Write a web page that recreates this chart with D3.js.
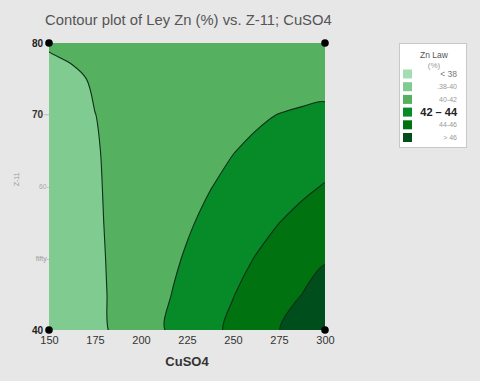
<!DOCTYPE html>
<meta charset="utf-8">
<style>
body { margin: 0; background: #e7e7e7; }
svg { font-family: "Liberation Sans", Arial, sans-serif; }
</style>
<svg width="480" height="381"></svg>
<script src="https://d3js.org/d3.v7.min.js"></script>
<script>
// grid: CuSO4 across, Z-11 down the rows
var cuso4 = [150, 162.5, 175, 187.5, 200, 212.5, 225, 237.5, 250, 262.5, 275, 287.5, 300];
var z11 = [40, 45, 50, 55, 60, 65, 70, 75, 80];
var zn = [
  [38.7, 39.1, 39.54, 40.34, 41.15, 41.97, 42.76, 43.56, 44.36, 45.16, 45.97, 46.77, 47.57],
  [38.7, 39.1, 39.63, 40.34, 41.06, 41.77, 42.49, 43.22, 43.94, 44.63, 45.32, 46.0, 46.68],
  [38.8, 39.15, 39.72, 40.33, 40.93, 41.54, 42.15, 42.79, 43.44, 44.07, 44.7, 45.3, 45.85],
  [38.9, 39.25, 39.81, 40.31, 40.81, 41.31, 41.82, 42.35, 42.89, 43.43, 43.98, 44.5, 45.0],
  [39.0, 39.35, 39.87, 40.28, 40.7, 41.12, 41.53, 41.95, 42.38, 42.81, 43.24, 43.67, 44.1],
  [39.15, 39.45, 39.92, 40.26, 40.6, 40.93, 41.27, 41.61, 41.95, 42.28, 42.6, 42.9, 43.15],
  [39.3, 39.6, 39.99, 40.24, 40.5, 40.75, 41.01, 41.27, 41.53, 41.78, 42.03, 42.25, 42.45],
  [39.55, 39.8, 40.12, 40.3, 40.46, 40.6, 40.73, 40.85, 40.95, 41.03, 41.1, 41.15, 41.2],
  [40.15, 40.3, 40.45, 40.55, 40.62, 40.68, 40.72, 40.75, 40.77, 40.78, 40.78, 40.78, 40.78]
];
var levels = [0, 38, 40, 42, 44, 46];
var levelNames = ["< 38", ".38-40", "40-42", "42  \u2013  44", "44-46", "> 46"];
var colors = ["#a3ddb2", "#80cb8f", "#55b05f", "#078a28", "#00720f", "#004e1b"];
var xTicks = [150, 175, 200, 225, 250, 275, 300];

var svg = d3.select("svg");
var plotL = 49, plotR = 325, plotT = 43, plotB = 330;

var x = d3.scaleLinear().domain([150, 300]).range([plotL, plotR]);
var y = d3.scaleLinear().domain([40, 80]).range([plotB, plotT]);

var nx = cuso4.length, ny = z11.length;
var dxStep = cuso4[1] - cuso4[0], dyStep = z11[1] - z11[0];
var values = [];
zn.forEach(function(row) { row.forEach(function(v) { values.push(v); }); });

var contours = d3.contours().size([nx, ny]).thresholds(levels)(values);

// grid coords -> pixels (d3.contours puts sample i at i + 0.5)
function px(p) {
  return [x(cuso4[0] + (p[0] - 0.5) * dxStep), y(z11[0] + (p[1] - 0.5) * dyStep)];
}
var ringLine = d3.line().curve(d3.curveCatmullRomClosed.alpha(0.5));
function smoothPath(mp) {
  var s = "";
  mp.coordinates.forEach(function(poly) {
    poly.forEach(function(ring) {
      var pts = ring.slice(0, ring.length - 1).map(px);
      s += ringLine(pts);
    });
  });
  return s;
}

svg.append("clipPath").attr("id", "plotclip")
  .append("rect").attr("x", plotL).attr("y", plotT)
  .attr("width", plotR - plotL).attr("height", plotB - plotT);

var g = svg.append("g").attr("clip-path", "url(#plotclip)");
g.selectAll("path.fill")
    .data(contours)
  .enter().append("path")
    .attr("class", "fill")
    .attr("d", smoothPath)
    .attr("fill", function(d, i) { return colors[i]; })
    .attr("fill-rule", "evenodd");
g.selectAll("path.line")
    .data(contours.slice(1))
  .enter().append("path")
    .attr("class", "line")
    .attr("d", smoothPath)
    .attr("fill", "none")
    .attr("stroke", "#10301a")
    .attr("stroke-width", 1.1);

// title
svg.append("text")
    .attr("x", 45).attr("y", 25)
    .style("font-size", "14.8px")
    .attr("fill", "#555")
    .text("Contour plot of Ley Zn (%) vs. Z-11; CuSO4");

// x axis
var xAxis = svg.append("g")
    .attr("transform", "translate(0," + plotB + ")")
    .call(d3.axisBottom(x).tickValues(xTicks).tickSize(0).tickPadding(6));
xAxis.select(".domain").remove();
xAxis.selectAll("text").style("font-size", "11px").attr("fill", "#333");

svg.append("text")
    .attr("x", (plotL + plotR) / 2).attr("y", 366)
    .attr("text-anchor", "middle")
    .style("font-size", "13px")
    .style("font-weight", "bold")
    .attr("fill", "#333")
    .text("CuSO4");

// y axis: the picture shows odd labels at 60 and 50
var yLabels = [
  {v: 80, t: "80", c: "#222", s: 10, b: "bold"},
  {v: 70, t: "70", c: "#333", s: 10, b: "bold"},
  {v: 60, t: "60-", c: "#aaa", s: 7, b: "normal"},
  {v: 50, t: "fifty-", c: "#999", s: 7, b: "normal"},
  {v: 40, t: "40", c: "#222", s: 10, b: "bold"}
];
svg.selectAll("text.ylab")
    .data(yLabels)
  .enter().append("text")
    .attr("class", "ylab")
    .attr("x", function(d) { return d.v === 60 || d.v === 50 ? plotL : plotL - 6; })
    .attr("y", function(d) { return y(d.v); })
    .attr("dy", "0.35em")
    .attr("text-anchor", "end")
    .style("font-size", function(d) { return d.s + "px"; })
    .style("font-weight", function(d) { return d.b; })
    .attr("fill", function(d) { return d.c; })
    .text(function(d) { return d.t; });
svg.append("line")
    .attr("x1", plotL - 5).attr("x2", plotL)
    .attr("y1", y(70)).attr("y2", y(70))
    .attr("stroke", "#bbb");

svg.append("text")
    .attr("transform", "translate(19," + y(61) + ") rotate(-90)")
    .attr("text-anchor", "middle")
    .style("font-size", "7px")
    .attr("fill", "#999")
    .text("Z-11");

// corner dots
var corners = [[150, 40], [150, 80], [300, 40], [300, 80]];
svg.selectAll("circle.corner")
    .data(corners)
  .enter().append("circle")
    .attr("cx", function(d) { return x(d[0]); })
    .attr("cy", function(d) { return y(d[1]); })
    .attr("r", 3.8)
    .attr("fill", "#000");

// legend
var lg = svg.append("g");
lg.append("rect")
    .attr("x", 399.5).attr("y", 43.5).attr("width", 67).attr("height", 104)
    .attr("fill", "#fff").attr("stroke", "#c8c8c8");
lg.append("text").attr("x", 434).attr("y", 58).attr("text-anchor", "middle")
    .style("font-size", "8.5px").attr("fill", "#555").text("Zn Law");
lg.append("text").attr("x", 434).attr("y", 68).attr("text-anchor", "middle")
    .style("font-size", "8px").attr("fill", "#999").text("(%)");
var items = lg.selectAll("g.item")
    .data(levelNames)
  .enter().append("g")
    .attr("class", "item")
    .attr("transform", function(d, i) { return "translate(0," + (74 + i * 12.7) + ")"; });
items.append("rect")
    .attr("x", 403).attr("y", -4.5).attr("width", 9).attr("height", 9)
    .attr("fill", function(d, i) { return colors[i]; });
items.append("text")
    .attr("x", 457).attr("dy", "0.35em")
    .attr("text-anchor", "end")
    .style("font-size", function(d, i) { return i === 3 ? "11px" : (i === 0 ? "8.5px" : "7px"); })
    .style("font-weight", function(d, i) { return i === 3 ? "bold" : "normal"; })
    .attr("fill", function(d, i) { return i === 3 ? "#222" : (i === 0 ? "#777" : "#999"); })
    .text(function(d) { return d; });
</script>
